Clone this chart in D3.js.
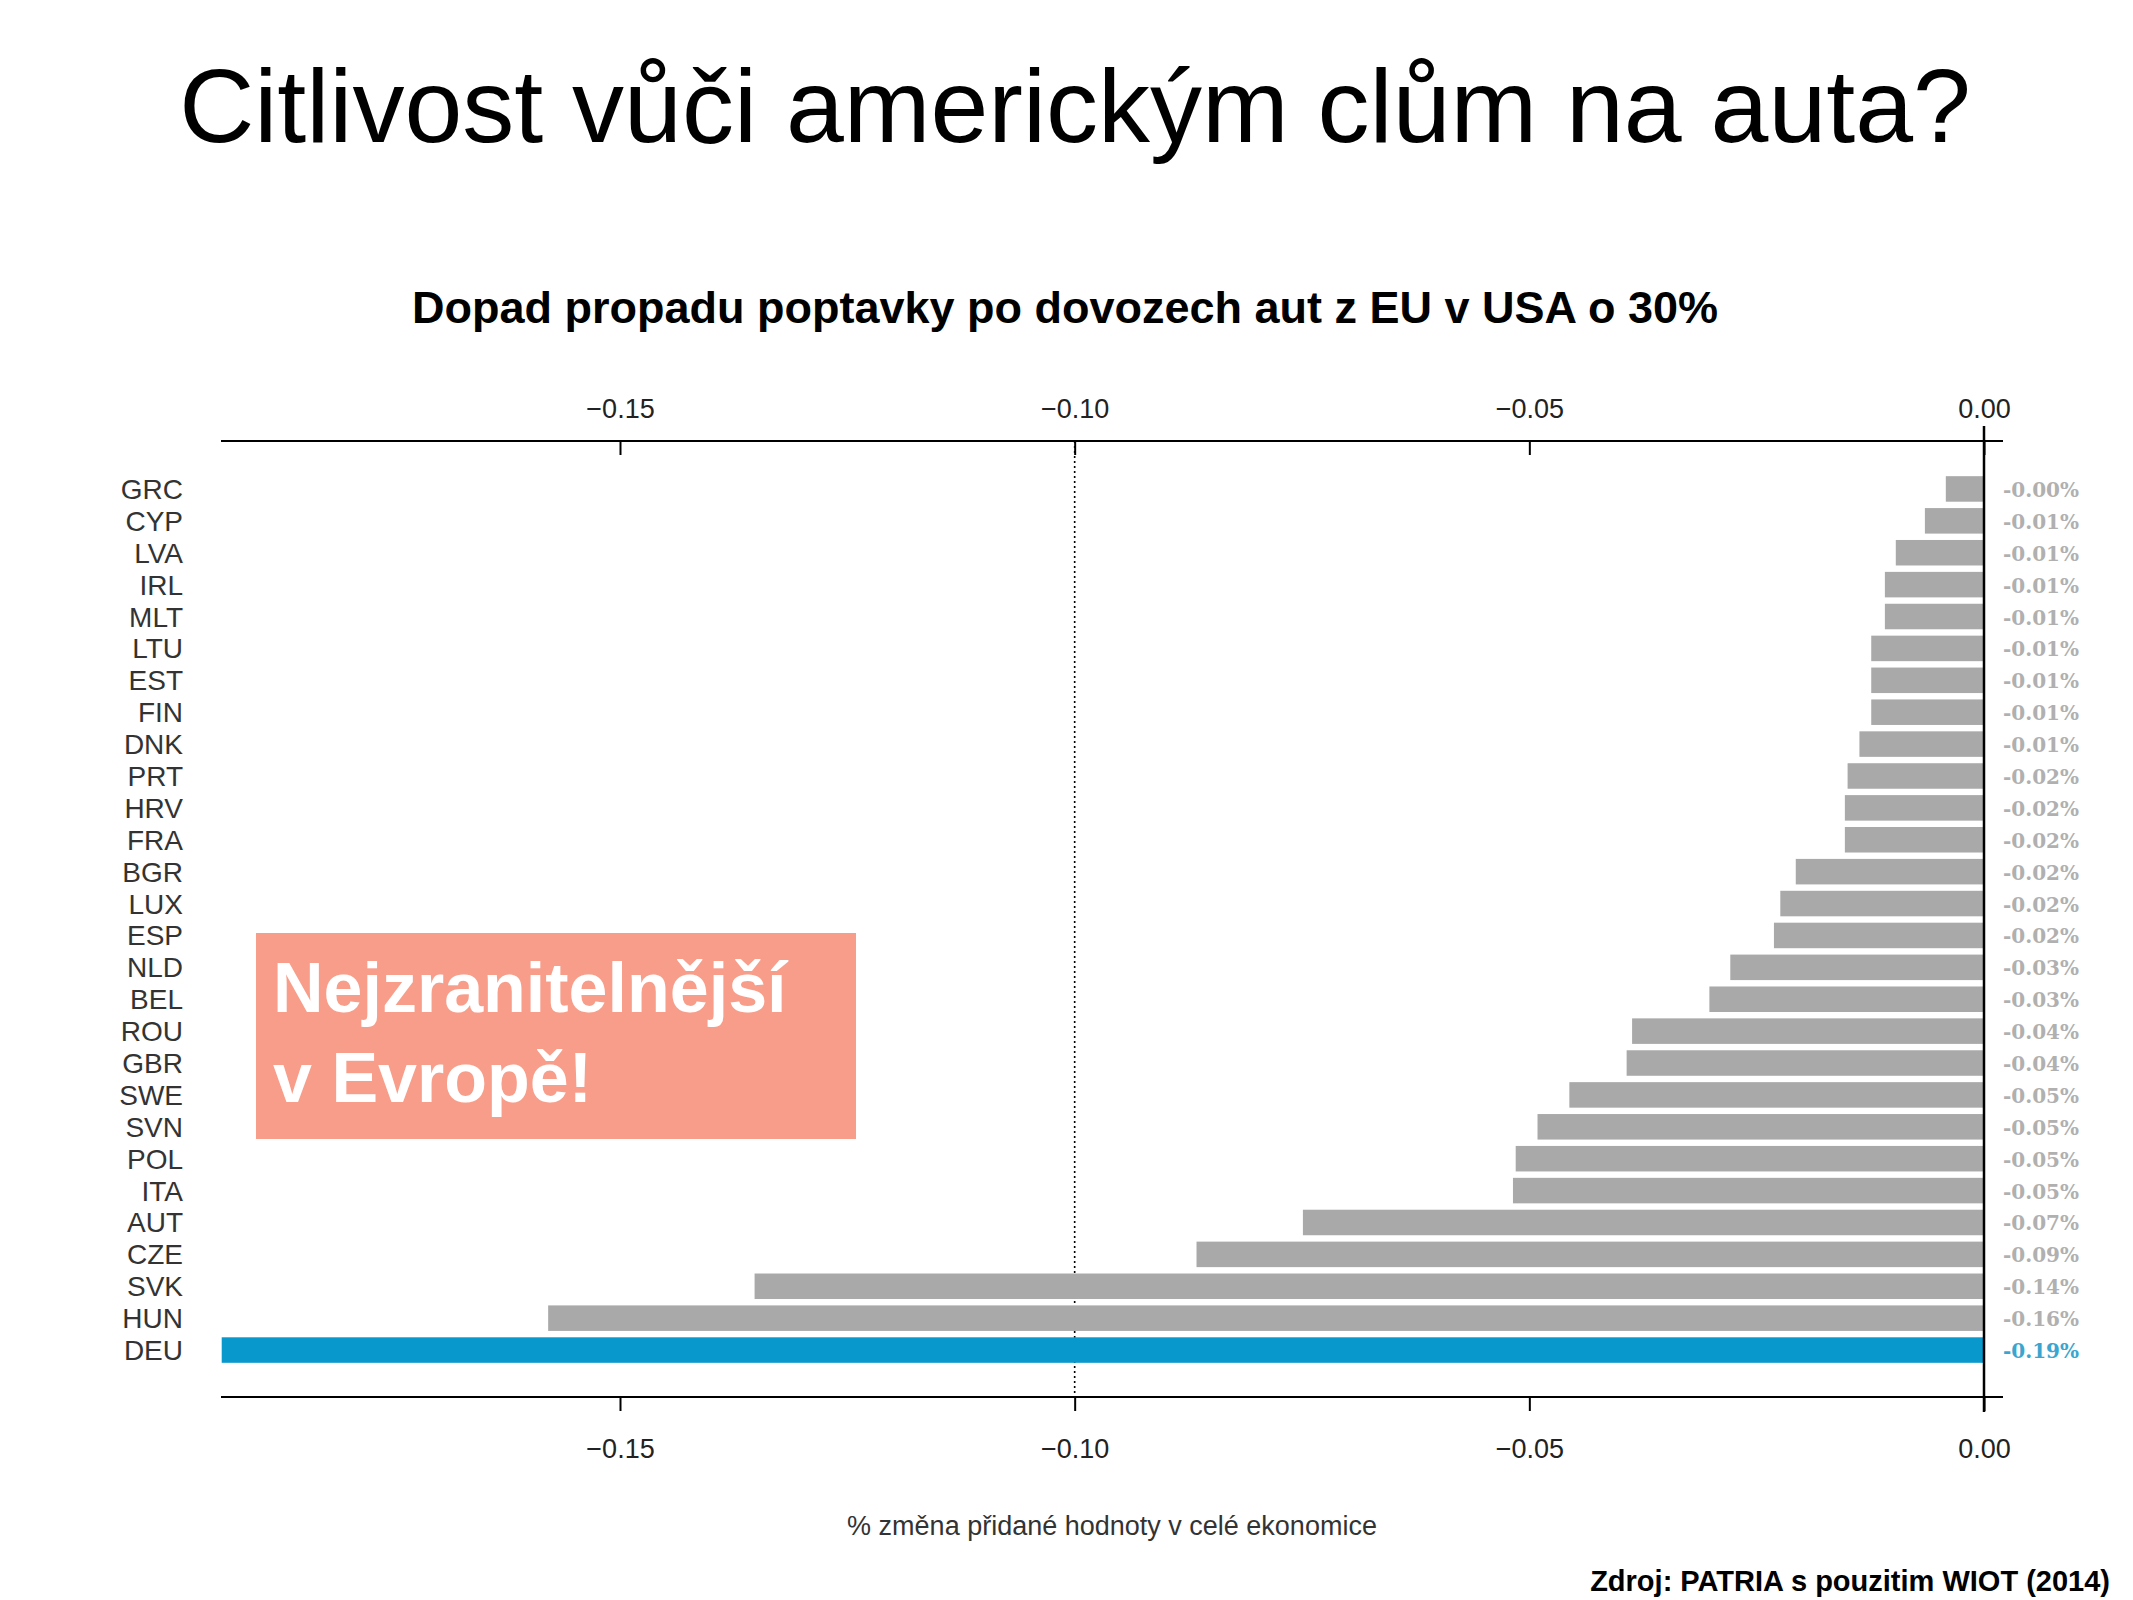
<!DOCTYPE html>
<html><head><meta charset="utf-8">
<script src="https://cdn.jsdelivr.net/npm/d3@7"></script>
<style>body{margin:0;background:#fff}</style></head>
<body><svg id="c" width="2133" height="1600"></svg>
<script>
const countries=["GRC","CYP","LVA","IRL","MLT","LTU","EST","FIN","DNK","PRT","HRV","FRA","BGR","LUX","ESP","NLD","BEL","ROU","GBR","SWE","SVN","POL","ITA","AUT","CZE","SVK","HUN","DEU"];
const values=[-0.0042,-0.0065,-0.0097,-0.0109,-0.0109,-0.0124,-0.0124,-0.0124,-0.0137,-0.015,-0.0153,-0.0153,-0.0207,-0.0224,-0.0231,-0.0279,-0.0302,-0.0387,-0.0393,-0.0456,-0.0491,-0.0515,-0.0518,-0.0749,-0.0866,-0.1352,-0.1579,-0.1938];
const labels=["-0.00%","-0.01%","-0.01%","-0.01%","-0.01%","-0.01%","-0.01%","-0.01%","-0.01%","-0.02%","-0.02%","-0.02%","-0.02%","-0.02%","-0.02%","-0.03%","-0.03%","-0.04%","-0.04%","-0.05%","-0.05%","-0.05%","-0.05%","-0.07%","-0.09%","-0.14%","-0.16%","-0.19%"];
const ticks=[-0.15,-0.10,-0.05,0.00];
const highlight="DEU";

const svg=d3.select("#c");
const F="Liberation Sans, Arial, sans-serif";
const x=d3.scaleLinear().domain([-0.15,0]).range([620,1984]);
const y=d3.scaleBand().domain(countries).range([473,1366]).paddingInner(0.2).paddingOuter(0.1);

svg.append("text").attr("x",1075).attr("y",142).attr("text-anchor","middle").attr("font-family",F).attr("font-size",104).text("Citlivost vůči americkým clům na auta?");
svg.append("text").attr("x",1065).attr("y",323).attr("text-anchor","middle").attr("font-family",F).attr("font-weight","bold").attr("font-size",45).text("Dopad propadu poptavky po dovozech aut z EU v USA o 30%");

const axT=svg.append("g").attr("transform","translate(0,441)").call(d3.axisBottom(x).tickValues(ticks).tickFormat(d3.format(".2f")).tickSize(14).tickSizeOuter(0));
const axB=svg.append("g").attr("transform","translate(0,1397)").call(d3.axisBottom(x).tickValues(ticks).tickFormat(d3.format(".2f")).tickSize(14).tickSizeOuter(0));
[axT,axB].forEach(a=>{a.select(".domain").remove();a.selectAll("line").attr("stroke","#000").attr("stroke-width",2);a.selectAll("text").attr("font-family",F).attr("font-size",27).attr("fill","#222");});
axT.selectAll("text").attr("y",-42);
axB.selectAll("text").attr("y",42);
[441,1397].forEach(yy=>svg.append("line").attr("x1",221).attr("x2",2003).attr("y1",yy).attr("y2",yy).attr("stroke","#000").attr("stroke-width",2));

svg.append("line").attr("x1",x(-0.10)).attr("x2",x(-0.10)).attr("y1",441).attr("y2",1397).attr("stroke","#000").attr("stroke-width",1.6).attr("stroke-dasharray","2,3");

svg.append("g").selectAll("rect").data(countries).join("rect")
 .attr("x",(d,i)=>x(values[i])).attr("width",(d,i)=>x(0)-x(values[i]))
 .attr("y",d=>y(d)).attr("height",y.bandwidth())
 .attr("fill",d=>d===highlight?"#0898cc":"#a9a9a9");

svg.append("line").attr("x1",x(0)).attr("x2",x(0)).attr("y1",426).attr("y2",1412).attr("stroke","#000").attr("stroke-width",2.5);

svg.append("g").selectAll("text").data(countries).join("text")
 .attr("x",183).attr("y",d=>y(d)+y.bandwidth()/2+10).attr("text-anchor","end")
 .attr("font-family",F).attr("font-size",28).attr("fill","#333").text(d=>d);

svg.append("g").selectAll("text").data(countries).join("text")
 .attr("x",2003).attr("y",d=>y(d)+y.bandwidth()/2+8).attr("font-family","DejaVu Serif, serif").attr("font-size",20)
 .attr("font-weight","bold").attr("fill",d=>d===highlight?"#3aa6d0":"#b0b0b0").text((d,i)=>labels[i]);

svg.append("rect").attr("x",256).attr("y",933).attr("width",600).attr("height",206).attr("fill","#f89d89");
svg.append("text").attr("x",273).attr("y",1012).attr("font-family",F).attr("font-weight","bold").attr("font-size",70).attr("fill","#fff").text("Nejzranitelnější");
svg.append("text").attr("x",273).attr("y",1102).attr("font-family",F).attr("font-weight","bold").attr("font-size",70).attr("fill","#fff").text("v Evropě!");

svg.append("text").attr("x",1112).attr("y",1535).attr("text-anchor","middle").attr("font-family",F).attr("font-size",27).attr("fill","#333").text("% změna přidané hodnoty v celé ekonomice");
svg.append("text").attr("x",2110).attr("y",1591).attr("text-anchor","end").attr("font-family",F).attr("font-weight","bold").attr("font-size",29).text("Zdroj: PATRIA s pouzitim WIOT (2014)");
</script></body></html>
